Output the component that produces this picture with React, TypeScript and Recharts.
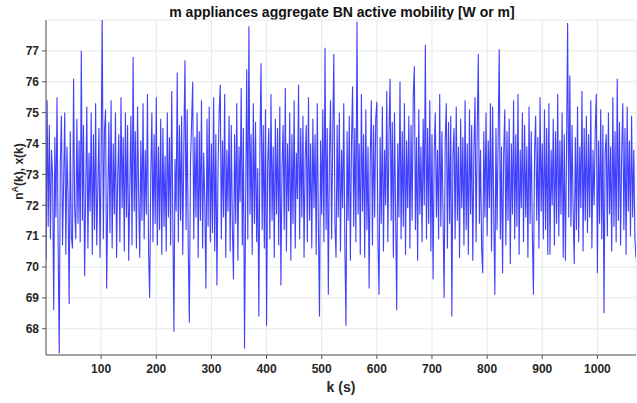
import React from 'react';
import { CartesianGrid, Label, Line, LineChart, XAxis, YAxis } from 'recharts';

// aggregate active mobility, one reading every 2 s starting at k = 0
const mobility: number[] = [
  70.2, 75.4, 71.3, 74.6, 70.9, 73.8, 72.9, 68.6, 74.2, 71.6,
  75.5, 70.8, 67.2, 73.4, 74.9, 70.7, 72.8, 75.0, 70.4, 73.9,
  72.3, 68.8, 74.4, 71.0, 70.6, 76.1, 71.9, 70.9, 74.8, 71.4,
  74.1, 70.8, 77.0, 71.5, 74.6, 69.7, 72.4, 75.2, 70.6, 73.7,
  71.8, 75.0, 70.4, 74.3, 71.2, 75.3, 70.7, 72.6, 74.5, 70.3,
  73.6, 78.0, 70.9, 74.4, 75.1, 69.3, 72.2, 74.7, 71.1, 75.4,
  70.6, 74.0, 71.7, 75.0, 70.3, 72.9, 74.3, 70.8, 75.5, 71.9,
  74.2, 70.5, 75.0, 71.6, 74.6, 70.2, 72.5, 74.9, 70.7, 76.8,
  71.8, 74.4, 70.6, 75.2, 72.4, 70.3, 74.1, 71.5, 75.3, 70.9,
  73.8, 71.7, 75.6, 70.5, 69.0, 72.9, 75.0, 70.8, 74.3, 71.4,
  75.5, 70.7, 73.9, 71.2, 74.8, 70.4, 74.5, 71.3, 73.6, 70.5,
  75.0, 71.6, 74.2, 70.7, 75.7, 71.4, 67.9, 73.5, 71.8, 76.3,
  70.8, 74.6, 71.5, 74.9, 70.4, 73.9, 76.7, 71.2, 75.1, 70.6,
  68.2, 73.4, 74.6, 76.0, 70.9, 74.2, 71.6, 75.0, 70.3, 74.4,
  71.5, 75.4, 70.6, 73.7, 72.1, 69.3, 74.8, 71.3, 75.2, 70.8,
  74.0, 71.1, 75.5, 70.5, 74.3, 69.4, 73.2, 75.0, 75.9, 70.9,
  74.1, 71.6, 75.6, 70.3, 73.8, 71.8, 74.9, 70.5, 74.6, 71.3,
  69.6, 74.3, 71.4, 75.3, 70.2, 73.9, 72.1, 75.8, 70.7, 74.5,
  67.35, 71.9, 76.4, 70.9, 77.8, 71.7, 74.3, 70.4, 75.3, 71.4,
  74.7, 70.8, 73.2, 68.4, 74.0, 76.6, 71.2, 74.6, 70.6, 75.1,
  68.1, 73.3, 74.5, 70.9, 75.6, 71.5, 73.9, 70.3, 74.8, 71.7,
  74.5, 70.7, 75.2, 69.4, 73.2, 74.6, 71.2, 75.8, 70.5, 74.0,
  71.8, 75.0, 70.2, 74.3, 71.4, 75.4, 70.6, 73.7, 72.2, 75.9,
  70.9, 74.5, 71.6, 74.9, 70.3, 73.5, 74.6, 70.8, 75.5, 71.5,
  74.0, 70.6, 74.8, 71.9, 74.3, 70.4, 75.3, 71.3, 68.4, 74.1,
  71.7, 75.1, 70.8, 77.1, 71.2, 74.5, 69.1, 73.6, 75.4, 70.9,
  74.2, 76.9, 71.4, 70.3, 74.6, 71.6, 75.0, 70.5, 73.8, 71.9,
  75.3, 70.7, 68.1, 74.4, 71.5, 74.9, 70.2, 74.0, 75.85, 71.3,
  74.5, 70.8, 77.95, 71.7, 74.0, 70.4, 75.6, 71.8, 74.3, 70.3,
  75.1, 71.2, 73.9, 69.3, 73.4, 75.4, 70.7, 74.6, 71.6, 74.8,
  75.35, 70.9, 69.1, 74.2, 71.4, 75.2, 70.5, 73.8, 72.0, 75.7,
  70.8, 74.3, 76.1, 71.5, 74.7, 70.3, 75.0, 71.8, 68.6, 74.0,
  71.6, 76.0, 70.9, 74.4, 71.3, 75.3, 70.4, 74.1, 71.9, 74.9,
  70.6, 74.6, 71.5, 75.5, 76.5, 71.2, 74.2, 70.2, 75.1, 71.7,
  73.9, 70.8, 74.8, 72.0, 77.2, 70.9, 74.5, 71.4, 75.4, 70.5,
  74.3, 69.6, 73.7, 75.0, 71.6, 73.8, 70.9, 75.6, 71.3, 74.4,
  71.8, 69.0, 74.1, 75.3, 70.6, 74.7, 71.4, 74.9, 68.4, 73.6,
  74.5, 70.9, 75.2, 71.5, 73.9, 70.3, 74.8, 71.9, 74.2, 70.7,
  75.4, 71.2, 74.0, 70.4, 75.1, 71.7, 74.6, 70.2, 73.7, 75.5,
  70.8, 74.3, 76.9, 71.4, 73.8, 70.6, 69.8, 74.4, 71.6, 75.0,
  71.0, 74.1, 71.9, 75.3, 70.5, 75.2, 71.8, 69.1, 74.5, 71.2,
  74.2, 77.05, 70.9, 73.9, 69.8, 73.6, 75.1, 70.7, 74.4, 71.5,
  74.8, 70.1, 74.0, 71.7, 75.4, 70.9, 74.3, 71.3, 75.6, 70.4,
  73.8, 71.9, 75.0, 70.8, 74.6, 71.6, 73.9, 70.3, 75.2, 71.4,
  74.4, 71.1, 69.1, 73.7, 74.9, 71.5, 74.2, 70.6, 75.5, 71.8,
  74.0, 70.9, 75.1, 71.2, 74.5, 70.4, 75.3, 70.4, 73.8, 72.0,
  74.8, 70.7, 74.4, 71.4, 75.6, 71.0, 74.1, 71.7, 75.0, 70.3,
  74.3, 70.2, 73.7, 77.9, 71.6, 76.2, 71.3, 74.6, 71.8, 70.1,
  74.2, 71.2, 75.2, 70.8, 73.9, 71.9, 75.7, 70.5, 74.5, 71.5,
  74.9, 71.1, 74.3, 71.6, 75.4, 70.6, 73.8, 72.0, 74.4, 75.6,
  69.8, 74.1, 71.4, 75.1, 70.9, 74.6, 68.5, 73.7, 74.3, 71.0,
  75.0, 71.7, 73.9, 70.5, 75.5, 71.3, 74.4, 70.8, 76.1, 71.5,
  74.7, 70.7, 73.6, 75.3, 71.2, 74.5, 70.4, 75.2, 71.8, 74.1,
  71.0, 74.9, 71.6, 73.8, 70.9, 70.3,
];
const sampleStep = 2;

const xTicks = [100, 200, 300, 400, 500, 600, 700, 800, 900, 1000];
const yTicks = [68, 69, 70, 71, 72, 73, 74, 75, 76, 77];

const chartData = mobility.map((value, i) => ({ k: i * sampleStep, value }));

const font = '"Liberation Sans", Arial, Helvetica, sans-serif';
const tickStyle = { fill: '#262626', fontSize: 12, fontWeight: 700, fontFamily: font };

const YTitle = ({ viewBox }: any) => {
  const cx = 23;
  const cy = viewBox.y + viewBox.height / 2 - 16;
  return (
    <text
      x={cx}
      y={cy}
      transform={`rotate(-90, ${cx}, ${cy})`}
      textAnchor="middle"
      fill="#262626"
      fontSize={12}
      fontWeight={700}
      fontFamily={font}
    >
      n<tspan dy={-5} fontSize={9}>A</tspan>
      <tspan dy={5}>(k), x(k)</tspan>
    </text>
  );
};

const App = () => {
  return (
    <div style={{ position: 'absolute', left: 0, top: 0, width: 637, height: 403, background: '#fff' }}>
      <div
        style={{
          position: 'absolute',
          left: 46,
          width: 592,
          top: 4,
          lineHeight: '16px',
          textAlign: 'center',
          fontFamily: font,
          fontWeight: 700,
          fontSize: 14,
          color: '#111',
        }}
      >
        m appliances aggregate BN active mobility [W or m]
      </div>
      <LineChart width={637} height={403} data={chartData} margin={{ top: 20, right: 1, bottom: 22, left: 0 }}>
        <CartesianGrid stroke="#e8e8e8" strokeWidth={1} />
        <XAxis
          dataKey="k"
          type="number"
          domain={[0, 1070]}
          ticks={xTicks}
          tick={tickStyle}
          tickSize={4}
          tickMargin={5}
          stroke="#555"
          height={26}
          allowDataOverflow
        >
          <Label
            value="k (s)"
            position="bottom"
            offset={1}
            style={{ fill: '#262626', fontSize: 14, fontWeight: 700, fontFamily: font }}
          />
        </XAxis>
        <YAxis
          type="number"
          domain={[67.15, 78.0]}
          ticks={yTicks}
          tick={tickStyle}
          tickSize={4}
          tickMargin={3}
          stroke="#555"
          width={46}
          allowDataOverflow
        >
          <Label content={<YTitle />} />
        </YAxis>
        <Line
          type="linear"
          dataKey="value"
          stroke="#1f1fff"
          strokeOpacity={0.85}
          strokeWidth={1.1}
          dot={false}
          isAnimationActive={false}
        />
      </LineChart>
    </div>
  );
};

export default App;
